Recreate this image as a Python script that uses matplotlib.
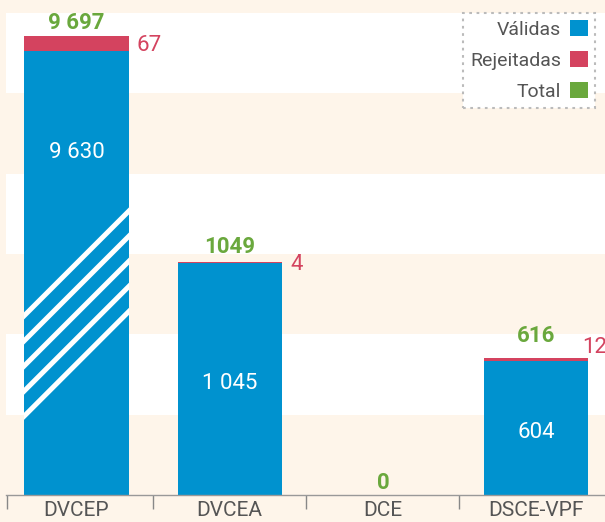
import matplotlib.pyplot as plt
from matplotlib.patches import Patch

categories = ['DVCEP', 'DVCEA', 'DCE', 'DSCE-VPF']
valid = [9630, 1045, 0, 604]
rejected = [67, 4, 0, 12]
total = [9697, 1049, 0, 616]
valid_labels = ['9 630', '1 045', '', '604']
rejected_labels = ['67', '4', '', '12']
total_labels = ['9 697', '1049', '0', '616']

blue = '#0092cf'
red = '#d4435f'
green = '#6aa83d'
cream = '#fef5ea'
grey = '#555555'

plt.rcParams['font.family'] = ['Roboto', 'DejaVu Sans']

W, H = 605, 522
fig = plt.figure(figsize=(W / 100, H / 100), dpi=100, facecolor=cream)
ax = fig.add_axes([6 / W, 1 - 495 / H, 1 - 6 / W, (495 - 13) / H])
ax.set_facecolor(cream)

cap = 2000      # tall bar is cut here (broken axis)
ymax = 2170
xlo, xhi = -0.46, 3.45
ax.set_ylim(0, ymax)
ax.set_xlim(xlo, xhi)

# alternating background bands
for i in range(6):
    ax.axhspan(i / 6 * ymax, (i + 1) / 6 * ymax,
               color='white' if i % 2 else cream, lw=0, zorder=0)

x = list(range(len(categories)))
shown = [min(v, cap) for v in valid]
bw = 0.68
bars_v = ax.bar(x, shown, width=bw, color=blue, lw=0, zorder=2)
bars_r = ax.bar(x, rejected, bottom=shown, width=bw, color=red, lw=0, zorder=2)

# white diagonal stripes marking the break
px_x = (1 - 6 / W) * W / (xhi - xlo)
px_y = (495 - 13) / ymax
slope = px_x / px_y
for i, v in enumerate(valid):
    if v > cap:
        b = bars_v[i]
        x0 = b.get_x()
        x1 = x0 + b.get_width()
        for k in range(5):
            y0 = 356 + k * 113
            xs = [x0 - 0.05, x1 + 0.05]
            ys = [y0 + (xx - x0) * slope for xx in xs]
            ln, = ax.plot(xs, ys, color='white', lw=3.6,
                          solid_capstyle='butt', zorder=3)
            ln.set_clip_path(b)

total_dy = [5, 6.5, 4.3, 12]
red_off = [(6, -5.4), (6, -5.4), (0, 0), (-4.3, 4.7)]
for i in x:
    top = shown[i] + rejected[i]
    ax.annotate(total_labels[i], (i, top), xytext=(0, total_dy[i]),
                textcoords='offset points', ha='center', va='baseline',
                color=green, fontsize=16, fontweight='bold', zorder=4)
    if rejected_labels[i]:
        ax.annotate(rejected_labels[i], (i + bw / 2, shown[i] + rejected[i] / 2),
                    xytext=red_off[i], textcoords='offset points',
                    ha='left', va='baseline', color=red, fontsize=16, zorder=4)
    if valid_labels[i]:
        ymid = cap - 440 if valid[i] > cap else shown[i] / 2
        ax.annotate(valid_labels[i], (i, ymid), xytext=(0, -7.2),
                    textcoords='offset points', ha='center', va='baseline',
                    color='white', fontsize=16, zorder=4)

ax.set_xticks(x)
ax.set_xticklabels(categories, fontsize=15, color=grey)
ax.set_xticks([xlo + 0.005, 0.5, 1.5, 2.5], minor=True)
ax.tick_params(axis='x', which='major', length=0, pad=4.5)
ax.tick_params(axis='x', which='minor', length=10, width=1, color='#888888')
ax.set_yticks([])
for s in ['left', 'right', 'top']:
    ax.spines[s].set_visible(False)
ax.spines['bottom'].set_color('#999999')
ax.spines['bottom'].set_linewidth(1)

handles = [Patch(facecolor=blue, lw=0, label='Válidas'),
           Patch(facecolor=red, lw=0, label='Rejeitadas'),
           Patch(facecolor=green, lw=0, label='Total')]
leg = ax.legend(handles=handles, loc='upper right',
                bbox_to_anchor=(595 / W, 1 - 13 / H), bbox_transform=fig.transFigure,
                borderaxespad=0, markerfirst=False, fontsize=14, labelcolor=grey,
                frameon=True, fancybox=False, framealpha=1,
                handlelength=0.93, handleheight=0.93, handletextpad=0.46,
                borderpad=0.35, labelspacing=0.62)
frame = leg.get_frame()
frame.set_facecolor('white')
frame.set_edgecolor('#bbbbbb')
frame.set_linewidth(1.5)
frame.set_linestyle((0, (1.3, 2.2)))
leg._legend_handle_box.get_children()[0].align = 'right'

fig.savefig('out.png', dpi=100, facecolor=cream)
